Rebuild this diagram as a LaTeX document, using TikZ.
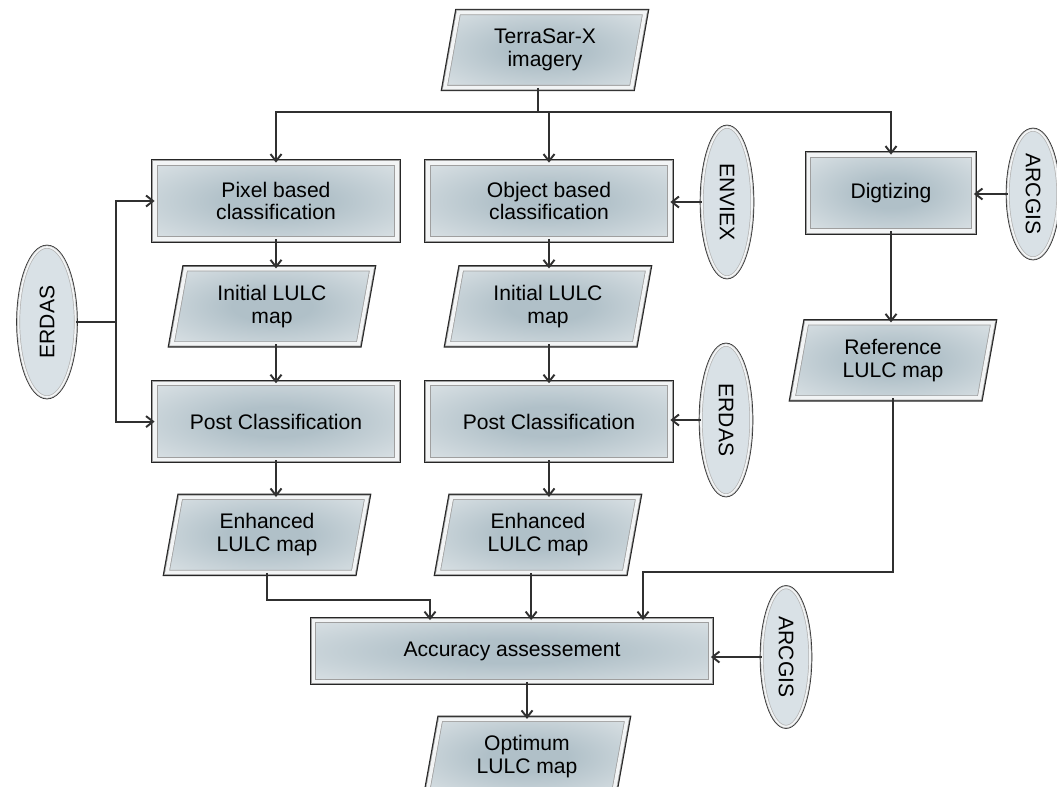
\documentclass[tikz,border=0pt]{standalone}
\usepackage{fontspec}
\setmainfont{Liberation Sans}
\usepackage{tikz}
\usetikzlibrary{shapes.geometric, arrows.meta, positioning, calc}

\definecolor{boxmid}{HTML}{B0C0C8}
\definecolor{boxedge}{HTML}{E9EDEF}
\definecolor{bevel}{HTML}{F2F4F5}
\definecolor{rim}{HTML}{9DA3A7}
\definecolor{toolmid}{HTML}{D9E1E6}
\definecolor{linecol}{HTML}{303030}

\pgfdeclareradialshading{boxshade}{\pgfpoint{0bp}{0bp}}{color(0bp)=(boxmid); color(10bp)=(boxmid); color(45bp)=(boxedge); color(70bp)=(boxedge)}
\pgfdeclareradialshading{toolshade}{\pgfpoint{0bp}{0bp}}{color(0bp)=(toolmid); color(28bp)=(toolmid); color(46bp)=(rim); color(50bp)=(rim)}

\begin{document}
\begin{tikzpicture}[
			auto,
			>={Straight Barb[length=1.4mm, width=2.2mm]},
			color=linecol, line width=1.1pt,
			framed/.style={preaction={draw=black!85, line width=4.2pt}, draw=gray!75, line width=0.45pt,
				double=bevel, double distance=2pt, shading=boxshade, text=black, font=\fontsize{12}{13}\selectfont},
			block/.style={rectangle, framed, minimum width=4.84cm, minimum height=1.52cm, align=center},
			data/.style={trapezium, trapezium left angle=73.6, trapezium right angle=106.4, trapezium stretches body=true,
				framed, minimum width=4cm, minimum height=1.5cm, inner sep=1pt, align=center},
			tool/.style={ellipse, preaction={draw=black!85, line width=2.6pt}, draw=gray!60, line width=0.4pt,
				double=bevel, double distance=1pt, shading=toolshade,
				minimum width=3cm, minimum height=1cm, inner sep=0pt, text=black, font=\fontsize{12}{13}\selectfont}
			]
			\useasboundingbox (0,0) rectangle (21.14,-15.72);
			
			% --- Dane wejsciowe ---
			\node[data] (terra) at (10.9,-1.0) {TerraSar-X\\imagery};
			
			% --- Klasyfikacja pikselowa ---
			\node[block] (pixel) at (5.52,-4.02) {Pixel based\\classification};
			\node[data, below=0.58cm of pixel, xshift=-0.08cm] (initP) {Initial LULC\\map};
			\node[block, below=0.78cm of initP, xshift=0.08cm] (postP) {Post Classification};
			\node[data, below=0.74cm of postP, xshift=-0.18cm] (enhP) {Enhanced\\LULC map};
			
			% --- Klasyfikacja obiektowa ---
			\node[block] (object) at (10.98,-4.02) {Object based\\classification};
			\node[data, below=0.58cm of object, xshift=-0.02cm] (initO) {Initial LULC\\map};
			\node[block, below=0.78cm of initO, xshift=0.02cm] (postO) {Post Classification};
			\node[data, below=0.74cm of postO, xshift=-0.22cm] (enhO) {Enhanced\\LULC map};
			
			% --- Mapa referencyjna ---
			\node[block, minimum width=3.3cm] (digit) at (17.82,-3.86) {Digtizing};
			\node[data, below=1.82cm of digit, xshift=0.04cm] (ref) {Reference\\LULC map};
			
			% --- Ocena dokladnosci ---
			\node[block, minimum width=7.94cm, minimum height=1.22cm] (acc) at (10.24,-13.02) {Accuracy assessement};
			\node[data, below=0.74cm of acc, xshift=0.3cm] (opt) {Optimum\\LULC map};
			
			% --- Oprogramowanie ---
			\node[tool, rotate=90, minimum height=1.14cm] (erdasL) at (0.94,-6.44) {ERDAS};
			\node[tool, rotate=-90] (enviex) at (14.54,-4.04) {ENVIEX};
			\node[tool, rotate=-90] (erdasR) at (14.52,-8.4) {ERDAS};
			\node[tool, rotate=-90, minimum width=2.56cm] (arcgisT) at (20.66,-3.88) {ARCGIS};
			\node[tool, rotate=-90, minimum width=2.78cm, minimum height=0.96cm] (arcgisB) at (15.72,-13.14) {ARCGIS};
			
			% --- Rozgalezienie danych wejsciowych ---
			\draw (terra.bottom side) -- ++(0,-0.48) coordinate (split);
			\draw[->] (split) -| (pixel);
			\draw[->] (split) -| (digit);
			\draw[->] (object.north |- split) -- (object);
			
			% --- Sciezki glowne ---
			\draw[->] (pixel) -- (pixel |- initP.north);
			\draw[->] (initP.south -| postP) -- (postP);
			\draw[->] (postP) -- (postP |- enhP.north);
			\draw[->] (object) -- (object |- initO.north);
			\draw[->] (initO.south -| postO) -- (postO);
			\draw[->] (postO) -- (postO |- enhO.north);
			\draw[->] (digit) -- (digit |- ref.north);
			
			% --- Wejscia do oceny dokladnosci ---
			\draw[->] (enhP.south) -- ++(0,-0.54) -| ([xshift=-1.64cm]acc.north);
			\draw[->] (enhO.bottom side) -- (enhO.bottom side |- acc.north);
			\draw[->] (ref.south) -- ++(0,-3.48) -| ([xshift=2.62cm]acc.north);
			\draw[->] (acc.south -| opt.north) -- (opt.north);
			
			% --- Narzedzia ---
			\draw (erdasL.south) -- ++(0.8,0) coordinate (fork);
			\draw[->] (fork) |- (pixel.west);
			\draw[->] (fork) |- (postP.west);
			\draw[->] (enviex.south) -- (enviex.south -| object.east);
			\draw[->] (erdasR.south) -- (erdasR.south -| postO.east);
			\draw[->] (arcgisT.south) -- (arcgisT.south -| digit.east);
			\draw[->] (arcgisB.south) -- (arcgisB.south -| acc.east);
			
		\end{tikzpicture}
\end{document}
